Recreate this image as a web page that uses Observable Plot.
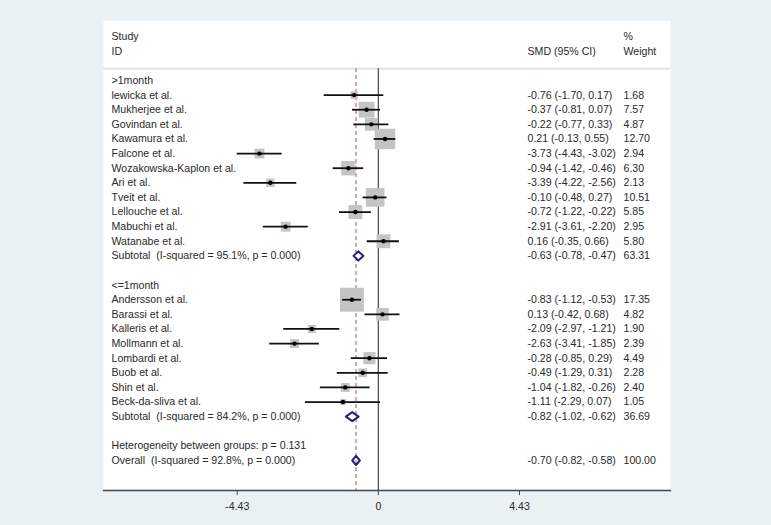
<!DOCTYPE html>
<html>
<head>
<meta charset="utf-8">
<script src="https://cdn.jsdelivr.net/npm/d3@7"></script>
<script src="https://cdn.jsdelivr.net/npm/@observablehq/plot@0.6"></script>
<style>
  html, body { margin: 0; padding: 0; background: #e9f1f4; }
  #chart { width: 771px; height: 525px; }
</style>
</head>
<body>
<div id="chart"></div>
<script>
// ---- data ----
const group1Label = ">1month";
const group1Studies = ["lewicka et al.", "Mukherjee et al.", "Govindan et al.", "Kawamura et al.", "Falcone et al.", "Wozakowska-Kaplon et al.", "Ari et al.", "Tveit et al.", "Lellouche et al.", "Mabuchi et al.", "Watanabe et al."];
const group1Est = [-0.76, -0.37, -0.22, 0.21, -3.73, -0.94, -3.39, -0.10, -0.72, -2.91, 0.16];
const group1Lo = [-1.70, -0.81, -0.77, -0.13, -4.43, -1.42, -4.22, -0.48, -1.22, -3.61, -0.35];
const group1Hi = [0.17, 0.07, 0.33, 0.55, -3.02, -0.46, -2.56, 0.27, -0.22, -2.20, 0.66];
const group1Weight = [1.68, 7.57, 4.87, 12.70, 2.94, 6.30, 2.13, 10.51, 5.85, 2.95, 5.80];
const group1Subtotal = {label: "Subtotal\u00a0 (I-squared = 95.1%, p = 0.000)", est: -0.63, lo: -0.78, hi: -0.47, weight: 63.31};

const group2Label = "<=1month";
const group2Studies = ["Andersson et al.", "Barassi et al.", "Kalleris et al.", "Mollmann et al.", "Lombardi et al.", "Buob et al.", "Shin et al.", "Beck-da-sliva et al."];
const group2Est = [-0.83, 0.13, -2.09, -2.63, -0.28, -0.49, -1.04, -1.11];
const group2Lo = [-1.12, -0.42, -2.97, -3.41, -0.85, -1.29, -1.82, -2.29];
const group2Hi = [-0.53, 0.68, -1.21, -1.85, 0.29, 0.31, -0.26, 0.07];
const group2Weight = [17.35, 4.82, 1.90, 2.39, 4.49, 2.28, 2.40, 1.05];
const group2Subtotal = {label: "Subtotal\u00a0 (I-squared = 84.2%, p = 0.000)", est: -0.82, lo: -1.02, hi: -0.62, weight: 36.69};

const heterogeneityText = "Heterogeneity between groups: p = 0.131";
const overall = {label: "Overall\u00a0 (I-squared = 92.8%, p = 0.000)", est: -0.70, lo: -0.82, hi: -0.58, weight: 100.00};

const headerLeft = ["Study", "ID"];
const headerCI = "SMD (95% CI)";
const headerWeight = ["%", "Weight"];
const xTicks = [-4.43, 0, 4.43];

// ---- build rows (row index = vertical slot) ----
const fmt = v => v.toFixed(2);
const ciText = d => `${fmt(d.est)} (${fmt(d.lo)}, ${fmt(d.hi)})`;

const rows = [];
const studies = [];
const pooled = [];
let r = 0;
rows.push({row: r++, label: group1Label});
group1Studies.forEach((s, i) => {
  const d = {row: r++, label: s, est: group1Est[i], lo: group1Lo[i], hi: group1Hi[i], weight: group1Weight[i]};
  rows.push(d); studies.push(d);
});
{ const d = {row: r++, ...group1Subtotal}; rows.push(d); pooled.push(d); }
r++;
rows.push({row: r++, label: group2Label});
group2Studies.forEach((s, i) => {
  const d = {row: r++, label: s, est: group2Est[i], lo: group2Lo[i], hi: group2Hi[i], weight: group2Weight[i]};
  rows.push(d); studies.push(d);
});
{ const d = {row: r++, ...group2Subtotal}; rows.push(d); pooled.push(d); }
r++;
rows.push({row: r++, label: heterogeneityText});
{ const d = {row: r++, ...overall}; rows.push(d); pooled.push(d); }
const lastRow = r - 1;

const numeric = rows.filter(d => d.est !== undefined);
const headerRows = [
  {row: -3, left: headerLeft[0], w: headerWeight[0], ci: ""},
  {row: -2, left: headerLeft[1], w: headerWeight[1], ci: headerCI}
];
const separatorRow = [-0.8];

// diamonds for pooled estimates
const diamondHalf = 0.31;
const diamonds = pooled.flatMap((d, k) => [
  {k, x: d.lo, y: d.row},
  {k, x: d.est, y: d.row - diamondHalf},
  {k, x: d.hi, y: d.row},
  {k, x: d.est, y: d.row + diamondHalf},
  {k, x: d.lo, y: d.row}
]);

const font = "Liberation Sans, Arial, sans-serif";
const textColor = "#2a2a2a";

const plot = Plot.plot({
  width: 771,
  height: 525,
  marginTop: 20,
  marginBottom: 35,
  marginLeft: 103,
  marginRight: 101,
  style: {background: "transparent", fontFamily: font, fontSize: "10.6px", color: textColor},
  x: {domain: [-4.43, 4.43], range: [236.7, 519]},
  y: {type: "linear", domain: [0, lastRow], range: [80, 460], axis: null},
  r: {type: "sqrt", domain: [0, 17.35], range: [0, 13.5]},
  marks: [
    Plot.frame({fill: "white", stroke: null}),
    Plot.ruleY(separatorRow, {stroke: "#dfe4e7", strokeWidth: 2}),
    Plot.ruleX([0], {stroke: "#555", strokeWidth: 1.3, insetTop: 48}),
    Plot.ruleX([overall.est], {stroke: "#c4979a", strokeWidth: 1.6, strokeDasharray: "4,3", insetTop: 48}),
    Plot.dot(studies, {x: "est", y: "row", r: "weight", symbol: "square", fill: "#c4c4c4", stroke: null}),
    Plot.ruleY(studies, {y: "row", x1: "lo", x2: "hi", stroke: "#111", strokeWidth: 1.8}),
    Plot.dot(studies, {x: "est", y: "row", r: 2.2, fill: "#000"}),
    Plot.line(diamonds, {x: "x", y: "y", z: "k", stroke: "#1f2280", strokeWidth: 2, curve: "linear-closed"}),
    Plot.text(rows, {y: "row", text: "label", frameAnchor: "left", dx: 8, textAnchor: "start", fill: textColor}),
    Plot.text(numeric, {y: "row", text: ciText, frameAnchor: "right", dx: -143, textAnchor: "start", fill: textColor}),
    Plot.text(numeric, {y: "row", text: d => fmt(d.weight), frameAnchor: "right", dx: -47, textAnchor: "start", fill: textColor}),
    Plot.text(headerRows, {y: "row", text: "left", frameAnchor: "left", dx: 8, textAnchor: "start", fill: textColor}),
    Plot.text(headerRows, {y: "row", text: "ci", frameAnchor: "right", dx: -143, textAnchor: "start", fill: textColor}),
    Plot.text(headerRows, {y: "row", text: "w", frameAnchor: "right", dx: -47, textAnchor: "start", fill: textColor}),
    Plot.frame({anchor: "bottom", stroke: "#444", strokeWidth: 1.3}),
    Plot.axisX(xTicks, {anchor: "bottom", tickSize: 5, tickPadding: 7, tickFormat: d => String(d), stroke: "#444", fill: textColor, fontSize: 10.6})
  ]
});
document.getElementById("chart").appendChild(plot);
</script>
</body>
</html>
